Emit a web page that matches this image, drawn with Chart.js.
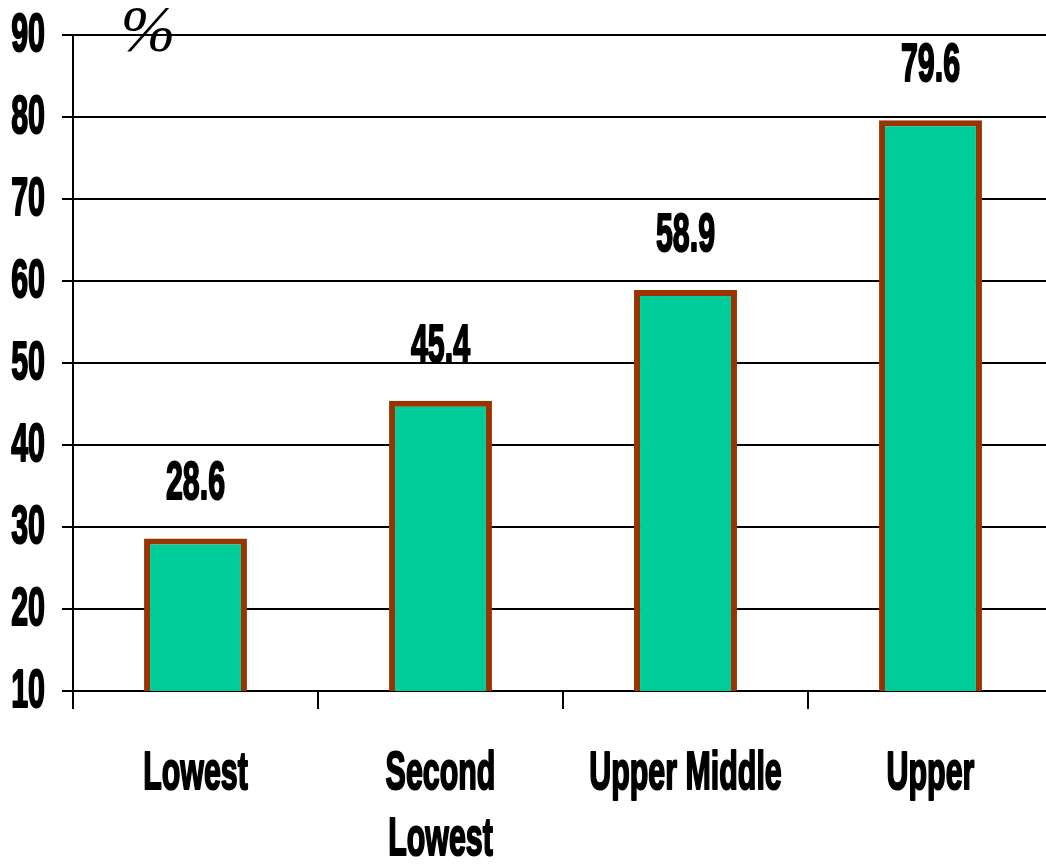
<!DOCTYPE html>
<html>
<head>
<meta charset="utf-8">
<title>Share by income group</title>
<script src="https://cdn.jsdelivr.net/npm/chart.js@4/dist/chart.umd.min.js"></script>
<style>
  html, body { margin: 0; padding: 0; background: #fff; overflow: hidden; }
  #chart { display: block; }
</style>
</head>
<body>
<canvas id="chart" width="1053" height="864"></canvas>
<script>
  const CATEGORIES = [['Lowest'], ['Second', 'Lowest'], ['Upper Middle'], ['Upper']];
  const VALUES     = [28.6, 45.4, 58.9, 79.6];
  const Y_TICKS    = [10, 20, 30, 40, 50, 60, 70, 80, 90];
  const UNIT_LABEL = '%';

  const FILL   = '#00CC99';
  const EDGE   = '#993300';
  const INK    = '#000000';

  // bold, squeezed and tall, like a narrow display face
  const FONT = 'bold 40px "Liberation Sans", Arial, sans-serif';
  const SX = 0.76;
  const SY = 1.36;

  function tallText(ctx, text, x, y, align) {
    ctx.save();
    ctx.translate(x, y);
    ctx.scale(SX, SY);
    ctx.font = FONT;
    ctx.fillStyle = INK;
    ctx.strokeStyle = INK;
    ctx.lineWidth = 1.6;
    ctx.lineJoin = 'round';
    ctx.textAlign = align;
    ctx.textBaseline = 'middle';
    ctx.fillText(text, 0, 0);
    ctx.strokeText(text, 0, 0);
    ctx.restore();
  }

  const labelsPlugin = {
    id: 'tallLabels',
    afterDraw(chart) {
      const ctx = chart.ctx;
      const xs = chart.scales.x;
      const ys = chart.scales.y;

      Y_TICKS.forEach(v => {
        tallText(ctx, String(v), 45, ys.getPixelForValue(v) + 1, 'right');
      });

      CATEGORIES.forEach((lines, i) => {
        const x = xs.getPixelForValue(i);
        lines.forEach((line, j) => {
          tallText(ctx, line, x, 774 + j * 66, 'center');
        });
      });

      const meta = chart.getDatasetMeta(0);
      meta.data.forEach((bar, i) => {
        tallText(ctx, VALUES[i].toFixed(1), bar.x, bar.y - 54, 'center');
      });

      ctx.save();
      ctx.font = 'italic 66px "Liberation Serif", "Times New Roman", serif';
      ctx.fillStyle = INK;
      ctx.textAlign = 'center';
      ctx.textBaseline = 'middle';
      ctx.fillText(UNIT_LABEL, 148, 34);
      ctx.restore();
    }
  };

  new Chart(document.getElementById('chart'), {
    type: 'bar',
    data: {
      labels: CATEGORIES,
      datasets: [{
        data: VALUES,
        backgroundColor: FILL,
        borderColor: EDGE,
        borderWidth: 6,
        borderSkipped: false,
        barPercentage: 0.42,
        categoryPercentage: 1,
      }],
    },
    options: {
      responsive: false,
      animation: false,
      layout: { padding: { top: 35, left: 0, right: 0, bottom: 0 } },
      plugins: {
        legend: { display: false },
        tooltip: { enabled: false },
      },
      scales: {
        x: {
          offset: true,
          grid: {
            offset: true,
            drawOnChartArea: false,
            drawTicks: true,
            tickLength: 18,
            color: INK,
            lineWidth: 2,
          },
          border: { display: false },
          ticks: { display: false },
          afterFit(scale) { scale.height = 173; },
        },
        y: {
          min: 10,
          max: 90,
          grid: {
            color: INK,
            lineWidth: 2,
            drawTicks: true,
            tickLength: 11,
          },
          border: { display: true, color: INK, width: 2 },
          ticks: { display: false, stepSize: 10 },
          afterFit(scale) { scale.width = 73; },
        },
      },
    },
    plugins: [labelsPlugin],
  });
</script>
</body>
</html>
